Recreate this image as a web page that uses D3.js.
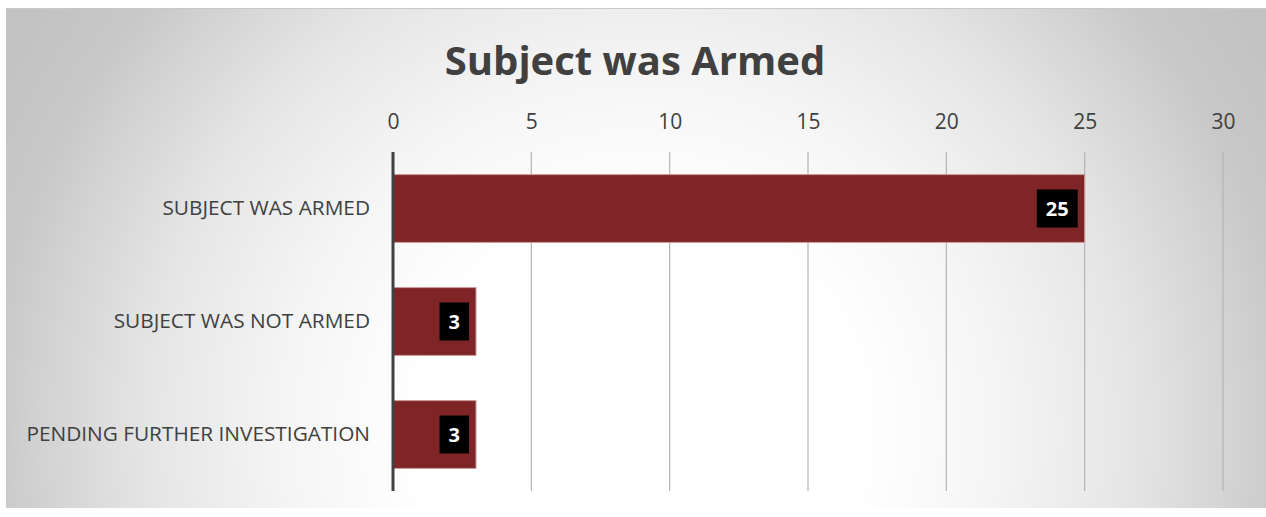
<!DOCTYPE html>
<html>
<head>
<meta charset="utf-8">
<script src="https://cdn.jsdelivr.net/npm/d3@7"></script>
<style>
  body { margin: 0; background: #fff; }
  svg { display: block; }
  text { font-family: "Open Sans", sans-serif; fill: #404040; }
</style>
</head>
<body>
<div id="container"></div>
<script>
// Chart data
const categories = ['SUBJECT WAS ARMED', 'SUBJECT WAS NOT ARMED', 'PENDING FURTHER INVESTIGATION'];
const values = [25, 3, 3];
const ticks = [0, 5, 10, 15, 20, 25, 30];
const title = 'Subject was Armed';

const W = 1266, H = 517;
const svg = d3.select('#container').append('svg')
  .attr('width', W).attr('height', H);

// Background gradient, light near the lower middle, gray at the edges
const defs = svg.append('defs');
const grad = defs.append('radialGradient')
  .attr('id', 'bg')
  .attr('gradientUnits', 'userSpaceOnUse')
  .attr('cx', 640).attr('cy', 430).attr('r', 740);
[[0, '#ffffff'], [0.3, '#ffffff'], [0.48, '#f5f5f5'], [0.66, '#e6e6e6'],
 [0.81, '#d2d2d2'], [0.88, '#c8c8c8'], [1, '#c2c2c2']].forEach(s => {
  grad.append('stop').attr('offset', s[0]).attr('stop-color', s[1]);
});

svg.append('rect')
  .attr('x', 6).attr('y', 8)
  .attr('width', W - 6).attr('height', 500)
  .attr('fill', 'url(#bg)');
svg.append('line')
  .attr('x1', 6).attr('x2', W).attr('y1', 8.5).attr('y2', 8.5)
  .attr('stroke', '#c8c8c8');

// Plot area
const plotLeft = 393, plotRight = 1223, plotTop = 152, plotBottom = 491;

const x = d3.scaleLinear().domain([0, 30]).range([plotLeft, plotRight]);
const y = d3.scaleBand().domain(categories).range([plotTop, plotBottom])
  .paddingInner(0.4).paddingOuter(0.2);

// Grid lines
svg.append('g')
  .selectAll('line')
  .data(ticks.slice(1))
  .enter().append('line')
  .attr('x1', d => x(d)).attr('x2', d => x(d))
  .attr('y1', plotTop).attr('y2', plotBottom)
  .attr('stroke', '#b4b4b4')
  .attr('stroke-width', 1.2);

// Top tick labels
const xAxis = svg.append('g')
  .attr('transform', `translate(0, ${plotTop - 23})`)
  .call(d3.axisTop(x).tickValues(ticks).tickSize(0).tickPadding(0));
xAxis.select('.domain').remove();
xAxis.selectAll('text')
  .attr('font-size', 21)
  .attr('fill', '#404040')
  .style('font-family', '"Open Sans", sans-serif');

// Bars
svg.append('g')
  .selectAll('rect')
  .data(values)
  .enter().append('rect')
  .attr('x', x(0))
  .attr('y', (d, i) => y(categories[i]))
  .attr('width', d => x(d) - x(0))
  .attr('height', y.bandwidth())
  .attr('fill', '#7f2527')
  .attr('stroke', '#c99a9b')
  .attr('stroke-width', 1);

// Zero line
svg.append('line')
  .attr('x1', x(0)).attr('x2', x(0))
  .attr('y1', plotTop).attr('y2', plotBottom)
  .attr('stroke', '#404040')
  .attr('stroke-width', 3);

// Category labels
const yAxis = svg.append('g')
  .attr('transform', `translate(${plotLeft - 23}, 0)`)
  .call(d3.axisLeft(y).tickSize(0).tickPadding(0));
yAxis.select('.domain').remove();
yAxis.selectAll('text')
  .attr('font-size', 20.8)
  .attr('fill', '#404040')
  .style('font-family', '"Open Sans", sans-serif');

// Value labels in black boxes
const labels = svg.append('g')
  .selectAll('g')
  .data(values)
  .enter().append('g');

labels.append('text')
  .attr('x', d => x(d) - 27)
  .attr('y', (d, i) => y(categories[i]) + y.bandwidth() / 2)
  .attr('dy', '0.36em')
  .attr('text-anchor', 'middle')
  .attr('font-size', 20)
  .attr('font-weight', 'bold')
  .style('fill', '#fff')
  .text(d => d);

labels.each(function (d) {
  const g = d3.select(this);
  const t = g.select('text');
  const b = t.node().getBBox();
  const w = b.width + 18, h = 38;
  const rx = x(d) - 7 - w;
  t.attr('x', rx + w / 2);
  g.insert('rect', 'text')
    .attr('x', rx)
    .attr('y', +t.attr('y') - h / 2)
    .attr('width', w).attr('height', h)
    .attr('fill', '#000');
});

// Title
svg.append('text')
  .attr('x', 635)
  .attr('y', 75)
  .attr('text-anchor', 'middle')
  .attr('font-size', 40)
  .attr('font-weight', 'bold')
  .text(title);
</script>
</body>
</html>
